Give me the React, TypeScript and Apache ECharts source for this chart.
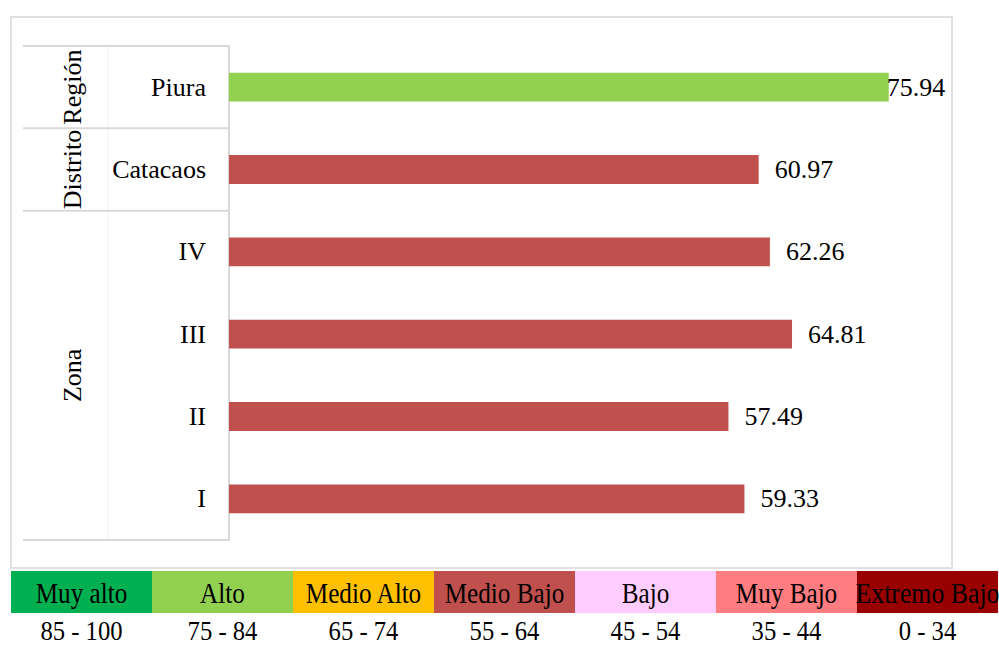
import React, { useEffect, useRef } from "react";
import * as echarts from "echarts";

const categories = ["Piura", "Catacaos", "IV", "III", "II", "I"];
const values = [75.94, 60.97, 62.26, 64.81, 57.49, 59.33];
const barColors = ["#92D050", "#C0504D", "#C0504D", "#C0504D", "#C0504D", "#C0504D"];
const groups = [
  { name: "Región", from: 0, to: 1 },
  { name: "Distrito", from: 1, to: 2 },
  { name: "Zona", from: 2, to: 6 },
];
const legendNames = ["Muy alto", "Alto", "Medio Alto", "Medio Bajo", "Bajo", "Muy Bajo", "Extremo Bajo"];
const legendRanges = ["85 - 100", "75 - 84", "65 - 74", "55 - 64", "45 - 54", "35 - 44", "0 - 34"];
const legendColors = ["#00B050", "#92D050", "#FFC000", "#C0504D", "#FFCCFF", "#FF7C80", "#990000"];

const FONT = "'Liberation Serif', 'Times New Roman', serif";
const GRID_LEFT = 229;
const GRID_TOP = 46;
const GRID_H = 494;
const GRID_W = 695;
const LINE = "#d9d9d9";

export default function App() {
  const ref = useRef<HTMLDivElement>(null);
  useEffect(() => {
    if (!ref.current) return;
    const chart = echarts.init(ref.current, null, { renderer: "svg" });
    const band = GRID_H / categories.length;
    const graphics: any[] = [];
    graphics.push({
      type: "rect",
      shape: { x: 11, y: 17, width: 941, height: 551 },
      style: { fill: "none", stroke: "#e0e0e0", lineWidth: 2 },
      z: 0,
    });
    graphics.push({
      type: "line",
      shape: { x1: 108, y1: GRID_TOP, x2: 108, y2: GRID_TOP + GRID_H },
      style: { stroke: "#f2f2f2", lineWidth: 1 },
    });
    const bounds = [0, ...groups.map((g) => g.to)];
    bounds.forEach((b) => {
      const y = GRID_TOP + b * band;
      graphics.push({
        type: "line",
        shape: { x1: 23, y1: y, x2: GRID_LEFT, y2: y },
        style: { stroke: LINE, lineWidth: 2 },
      });
    });
    groups.forEach((g) => {
      const cy = GRID_TOP + ((g.from + g.to) / 2) * band;
      graphics.push({
        type: "text",
        x: 72,
        y: cy,
        rotation: Math.PI / 2,
        style: {
          text: g.name,
          x: 0,
          y: 0,
          textAlign: "center",
          textVerticalAlign: "middle",
          fontSize: 26,
          fontFamily: FONT,
          fill: "#000",
        },
      });
    });
    const cellW = 141;
    legendNames.forEach((n, i) => {
      const x0 = 11 + i * cellW;
      graphics.push({
        type: "rect",
        shape: { x: x0, y: 571, width: cellW, height: 42 },
        style: { fill: legendColors[i] },
      });
      graphics.push({
        type: "text",
        x: x0 + cellW / 2,
        y: 593,
        scaleX: n === "Extremo Bajo" ? 0.86 : 0.84,
        style: {
          text: n,
          x: 0,
          y: 0,
          textAlign: "center",
          textVerticalAlign: "middle",
          fontSize: 30,
          fontFamily: FONT,
          fill: "#000",
        },
      });
      graphics.push({
        type: "text",
        x: x0 + cellW / 2,
        y: 631,
        scaleX: 0.88,
        style: {
          text: legendRanges[i],
          x: 0,
          y: 0,
          textAlign: "center",
          textVerticalAlign: "middle",
          fontSize: 28,
          fontFamily: FONT,
          fill: "#000",
        },
      });
    });

    chart.setOption({
      animation: false,
      backgroundColor: "#ffffff",
      grid: { left: GRID_LEFT, top: GRID_TOP, width: GRID_W, height: GRID_H, containLabel: false },
      xAxis: {
        type: "value",
        min: 0,
        max: 80,
        show: false,
      },
      yAxis: {
        type: "category",
        data: categories,
        inverse: true,
        axisLine: { show: true, lineStyle: { color: LINE, width: 2 } },
        axisTick: { show: false },
        axisLabel: { fontSize: 26, fontFamily: FONT, color: "#000", margin: 23 },
        splitLine: { show: false },
      },
      series: [
        {
          type: "bar",
          barWidth: "35%",
          data: values.map((v, i) => ({
            value: v,
            itemStyle: { color: barColors[i] },
            label: { distance: i === 0 ? -2 : 16 },
          })),
          label: {
            show: true,
            position: "right",
            fontSize: 26,
            fontFamily: FONT,
            color: "#000",
            formatter: (p: any) => p.value.toFixed(2),
          },
        },
      ],
      graphic: graphics,
    });
    return () => chart.dispose();
  }, []);
  return (
    <div
      ref={ref}
      style={{ position: "fixed", left: 0, top: 0, width: 999, height: 646, background: "#fff" }}
    />
  );
}
